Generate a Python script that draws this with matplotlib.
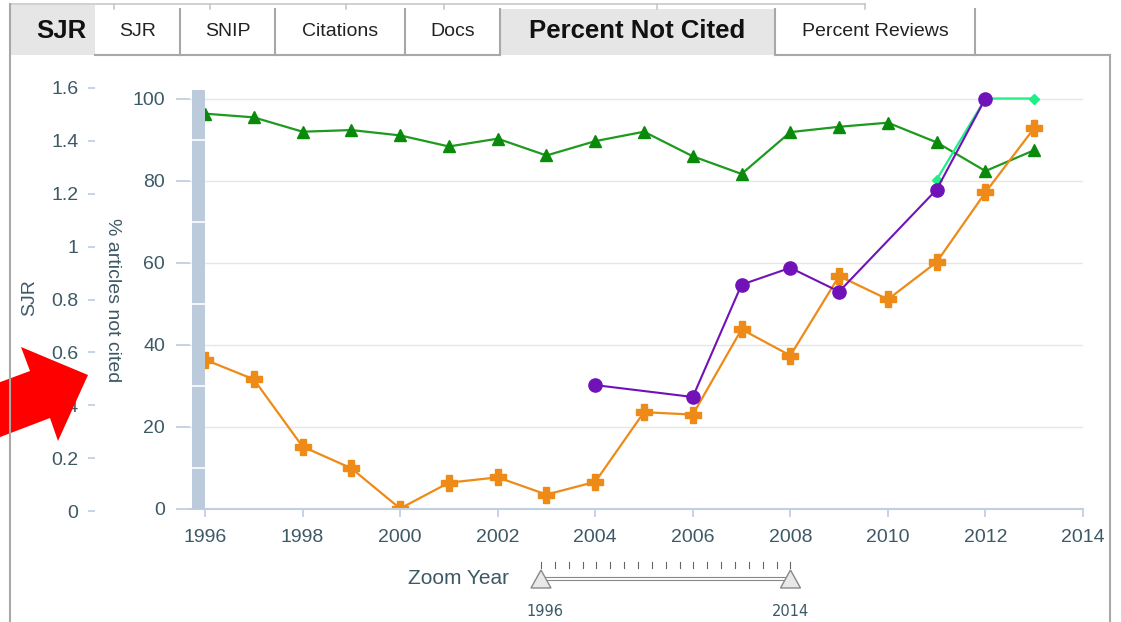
import matplotlib
matplotlib.use('Agg')
import matplotlib.pyplot as plt
from matplotlib.patches import Rectangle, Polygon

plt.rcParams['font.family'] = ['Liberation Sans', 'DejaVu Sans']

W, H = 1121, 622

# values
years = list(range(1996, 2014))
green_vals = [96.3, 95.4, 91.9, 92.3, 91.0, 88.3, 90.2, 86.1, 89.6, 91.9,
              85.9, 81.6, 91.8, 93.1, 94.1, 89.3, 82.3, 87.4]
orange_vals = [36.3, 31.5, 15.1, 9.8, 0.0, 6.3, 7.6, 3.4, 6.5, 23.5,
               22.9, 43.7, 37.3, 56.7, 51.0, 60.1, 77.1, 92.8]
purple_years = [2004, 2006, 2007, 2008, 2009, 2011, 2012]
purple_vals = [30.1, 27.2, 54.6, 58.7, 52.9, 77.8, 100.0]
mint_years = [2011, 2012, 2013]
mint_vals = [80.2, 100.0, 100.0]

x_ticks = list(range(1996, 2015, 2))
pct_ticks = [0, 20, 40, 60, 80, 100]
band_lines = [10, 30, 50, 70, 90]
sjr_ticks = [0, 0.2, 0.4, 0.6, 0.8, 1.0, 1.2, 1.4, 1.6]
sjr_labels = ['0', '0.2', '0.4', '0.6', '0.8', '1', '1.2', '1.4', '1.6']
slider_years = list(range(1996, 2015))
slider_ends = [1996, 2014]

tabs = ['SJR', 'SJR', 'SNIP', 'Citations', 'Docs', 'Percent Not Cited', 'Percent Reviews']
tab_edges = [10, 95, 180, 275, 405, 500, 775, 975]
tab_active = [True, False, False, False, False, True, False]

label_col = '#3d5966'
axis_col = '#c0d0e0'
frame_col = '#a8a8a8'


def box(l, t, r, b):
    return [l / W, 1 - b / H, (r - l) / W, (b - t) / H]


fig = plt.figure(figsize=(W / 100, H / 100), dpi=100)

# main chart
ax = fig.add_axes(box(190, 90, 1083, 508.5))
ax.set_xlim(1996 - 15 / 48.72, 2014)
ax.set_ylim(0, 100 * 418.5 / 410)
for v in pct_ticks[1:]:
    ax.axhline(v, color='#e6e6e6', lw=1, zorder=0)
x0 = 1996 - 13 / 48.72
ax.axvspan(x0, 1996, color='#bccbdb', zorder=4, lw=0)
for v in band_lines:
    ax.plot([x0, 1996], [v, v], color='white', lw=1.2, zorder=5)

ax.plot(years, green_vals, color='#1e9a1e', lw=1.6, marker='^', ms=9,
        mfc='#0a8a0a', mec='#0a8a0a', zorder=2)
ax.plot(years, orange_vals, color='#ee8a17', lw=1.6, marker='P', ms=11,
        mfc='#ee8a17', mec='#ee8a17', zorder=2)
ax.plot(mint_years, mint_vals, color='#22ee88', lw=1.6, marker='D', ms=5.5,
        zorder=2.5)
ax.plot(purple_years, purple_vals, color='#7012b8', lw=1.5, marker='o', ms=9.5,
        zorder=3)

for s in ['top', 'right', 'left']:
    ax.spines[s].set_visible(False)
ax.spines['bottom'].set_color(axis_col)
ax.spines['bottom'].set_linewidth(1.5)
ax.set_xticks(x_ticks)
ax.set_yticks(pct_ticks)
ax.tick_params(axis='x', colors=axis_col, length=6, width=1.3, pad=9,
               labelcolor=label_col, labelsize=14)
ax.tick_params(axis='y', colors=axis_col, length=10, width=1.3, pad=8,
               labelcolor=label_col, labelsize=14)

# SJR axis on the far left
ax2 = fig.add_axes(box(95, 88, 120, 511))
ax2.set_ylim(0, 1.6)
ax2.set_yticks(sjr_ticks)
ax2.set_yticklabels(sjr_labels)
ax2.get_xaxis().set_visible(False)
for s in ax2.spines.values():
    s.set_visible(False)
ax2.patch.set_alpha(0)
ax2.tick_params(axis='y', colors=axis_col, length=5, width=1.3, pad=7,
                labelcolor=label_col, labelsize=14)

fig.text(30 / W, 1 - 298 / H, 'SJR', rotation=90, ha='center', va='center',
         color=label_col, fontsize=14)
fig.text(112 / W, 1 - 300 / H, '% articles not cited', rotation=270,
         ha='center', va='center', color=label_col, fontsize=14)

# overlay in pixel coords: tabs, frame, slider, arrow
ov = fig.add_axes([0, 0, 1, 1], zorder=10)
ov.set_xlim(0, W)
ov.set_ylim(H, 0)
ov.axis('off')

# row of tabs behind
ov.plot([10, 865], [4, 4], color='#c8c8c8', lw=1.2)
for x in [114, 210, 346, 444, 657, 865]:
    ov.plot([x, x], [4, 9], color='#c8c8c8', lw=1.2)

for i, name in enumerate(tabs):
    l, r = tab_edges[i], tab_edges[i + 1]
    if tab_active[i]:
        top = 5 if i == 0 else 9
        ov.add_patch(Rectangle((l, top), r - l, 55 - top, facecolor='#e6e6e6',
                               edgecolor='none'))
        cx = 61 if i == 0 else (l + r) / 2
        ov.text(cx, 31, name, ha='center', va='center',
                fontsize=18.5, fontweight='bold', color='#111111')
    else:
        ov.add_patch(Rectangle((l, 9), r - l, 46, facecolor='white',
                               edgecolor='none'))
        ov.plot([l, r], [55, 55], color=frame_col, lw=1.5)
        ov.text((l + r) / 2, 31, name, ha='center', va='center',
                fontsize=14, color='#222222')
for x in tab_edges[2:]:
    ov.plot([x, x], [9, 55], color=frame_col, lw=1.5)

ov.plot([9.5, 9.5], [4, 622], color=frame_col, lw=1.5)
ov.plot([1110, 1110], [55, 622], color=frame_col, lw=1.5)
ov.plot([975, 1110], [55, 55], color=frame_col, lw=1.5)

# zoom slider
def sx(yr):
    return 541 + (yr - 1996) * 13.86

for yr in slider_years:
    ov.plot([sx(yr), sx(yr)], [562, 568], color='#666666', lw=0.8)
ov.add_patch(Rectangle((sx(1996), 576.5), sx(2014) - sx(1996), 3,
                       facecolor='white', edgecolor='#888888', lw=0.8))
for yr in slider_ends:
    x = sx(yr)
    ov.add_patch(Polygon([(x, 570), (x - 10, 588), (x + 10, 588)],
                         closed=True, facecolor='#e8e8e8', edgecolor='#888888', lw=1))
    ov.text(x + (4 if yr == 1996 else 0), 612, str(yr), ha='center', va='center',
            fontsize=10.5, color=label_col, family='DejaVu Sans')
ov.text(459, 578, 'Zoom Year', ha='center', va='center', fontsize=15,
        color=label_col)

# red arrow
ov.add_patch(Polygon([(-5, 384), (30, 371), (21, 347), (88, 375),
                      (58, 441), (50, 418), (-5, 439)],
                     closed=True, facecolor='#ff0000', edgecolor='none'))

fig.savefig('out.png', dpi=100)
